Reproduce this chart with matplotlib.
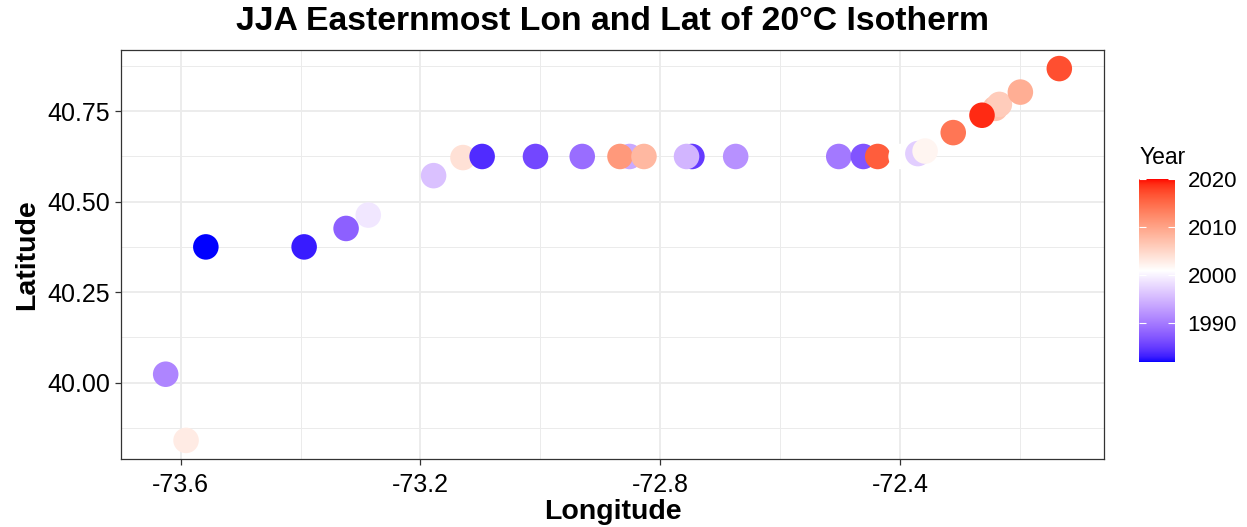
import numpy as np
import matplotlib
matplotlib.use("Agg")
import matplotlib.pyplot as plt
from matplotlib.colors import ListedColormap, Normalize

# ---------------- data ----------------
lon = [-73.625, -73.591, -73.558, -73.394, -73.324, -73.287, -73.178, -73.129,
       -73.097, -73.008, -72.930, -72.851, -72.867, -72.827, -72.747, -72.756,
       -72.674, -72.502, -72.461, -72.437, -72.398, -72.370, -72.358, -72.311,
       -72.241, -72.234, -72.263, -72.199, -72.134]
lat = [40.023, 39.840, 40.375, 40.375, 40.426, 40.463, 40.572, 40.622,
       40.625, 40.625, 40.625, 40.625, 40.625, 40.625, 40.625, 40.625,
       40.625, 40.625, 40.625, 40.625, 40.625, 40.633, 40.640, 40.691,
       40.758, 40.769, 40.739, 40.803, 40.868]
year = [1991, 2003, 1982, 1983, 1988, 1999, 1996, 2004,
        1984, 1986, 1989, 1994, 2011, 2008, 1985, 1995,
        1992, 1990, 1987, 2016, 2001, 1997, 2002, 2014,
        2007, 2006, 2019, 2009, 2017]

x_ticks = [-73.6, -73.2, -72.8, -72.4]
x_minor = [-73.4, -73.0, -72.6, -72.2]
y_ticks = [40.00, 40.25, 40.50, 40.75]
y_minor = [39.875, 40.125, 40.375, 40.625, 40.875]
year_ticks = [1990, 2000, 2010, 2020]
year_limits = (1982, 2020)

title = "JJA Easternmost Lon and Lat of 20°C Isotherm"
xlabel = "Longitude"
ylabel = "Latitude"
legend_title = "Year"

# ---------------- Lab-interpolated diverging palette ----------------
_M = np.array([[0.4124564, 0.3575761, 0.1804375],
               [0.2126729, 0.7151522, 0.0721750],
               [0.0193339, 0.1191920, 0.9503041]])
_W = np.array([0.95047, 1.0, 1.08883])


def srgb_to_lab(rgb):
    c = np.asarray(rgb, float)
    lin = np.where(c <= 0.04045, c / 12.92, ((c + 0.055) / 1.055) ** 2.4)
    xyz = _M @ lin / _W
    d = 6 / 29
    f = np.where(xyz > d ** 3, np.cbrt(xyz), xyz / (3 * d * d) + 4 / 29)
    return np.array([116 * f[1] - 16, 500 * (f[0] - f[1]), 200 * (f[1] - f[2])])


def lab_to_srgb(lab):
    L, a, b = lab
    fy = (L + 16) / 116
    fx = fy + a / 500
    fz = fy - b / 200
    d = 6 / 29
    f = np.array([fx, fy, fz])
    xyz = np.where(f > d, f ** 3, 3 * d * d * (f - 4 / 29)) * _W
    lin = np.linalg.solve(_M, xyz)
    lin = np.clip(lin, 0, 1)
    c = np.where(lin <= 0.0031308, 12.92 * lin, 1.055 * lin ** (1 / 2.4) - 0.055)
    return np.clip(c, 0, 1)


low, mid, high = srgb_to_lab([0, 0, 1]), srgb_to_lab([1, 1, 1]), srgb_to_lab([1, 0, 0])
cols = []
for t in np.linspace(0, 1, 512):
    if t <= 0.5:
        u = t / 0.5
        lab = low + (mid - low) * u
    else:
        u = (t - 0.5) / 0.5
        lab = mid + (high - mid) * u
    cols.append(lab_to_srgb(lab))
cmap = ListedColormap(cols)
norm = Normalize(vmin=year_limits[0], vmax=year_limits[1])

# ---------------- figure ----------------
plt.rcParams["font.family"] = ["Liberation Sans", "DejaVu Sans"]
W, H = 1247, 527
fig = plt.figure(figsize=(W / 100, H / 100), dpi=100)

px_l, px_r, px_t, px_b = 121, 1104, 50, 459
ax = fig.add_axes([px_l / W, 1 - px_b / H, (px_r - px_l) / W, (px_b - px_t) / H])

sc = ax.scatter(lon, lat, c=year, cmap=cmap, norm=norm, s=338, linewidths=0, zorder=3)

# ggplot-style 5% expansion
xr = max(lon) - min(lon)
yr = max(lat) - min(lat)
ax.set_xlim(min(lon) - 0.05 * xr, max(lon) + 0.05 * xr)
ax.set_ylim(min(lat) - 0.05 * yr, max(lat) + 0.05 * yr)

ax.set_xticks(x_ticks)
ax.set_xticklabels([f"{v:g}" for v in x_ticks])
ax.set_yticks(y_ticks)
ax.set_yticklabels([f"{v:.2f}" for v in y_ticks])
ax.set_xticks(x_minor, minor=True)
ax.set_yticks(y_minor, minor=True)
ax.grid(which="major", color="#ebebeb", linewidth=1.3, zorder=0)
ax.grid(which="minor", color="#ebebeb", linewidth=0.7, zorder=0)
ax.set_axisbelow(True)
ax.tick_params(which="minor", length=0)
ax.tick_params(which="major", length=4, width=0.9, color="#333333",
               labelsize=18, labelcolor="black", pad=4)
ax.tick_params(axis="x", which="major", pad=6)
for sp in ax.spines.values():
    sp.set_color("#333333")
    sp.set_linewidth(0.9)

cx = (px_l + px_r) / 2 / W
fig.text(cx, 1 - 21 / H, title, ha="center", va="center", fontsize=24.3, fontweight="bold")
fig.text(cx, 1 - 512 / H, xlabel, ha="center", va="center", fontsize=20.5, fontweight="bold")
fig.text(27 / W, 1 - (px_t + px_b) / 2 / H, ylabel, ha="center", va="center",
         rotation=90, fontsize=20.5, fontweight="bold")

# colorbar
cb_l, cb_r, cb_t, cb_b = 1139, 1175, 179, 362
cax = fig.add_axes([cb_l / W, 1 - cb_b / H, (cb_r - cb_l) / W, (cb_b - cb_t) / H])
cbar = fig.colorbar(sc, cax=cax, ticks=year_ticks)
cbar.outline.set_visible(False)
cax.tick_params(axis="y", direction="in", color="white", length=5, width=0.8,
                left=True, right=True, labelleft=False, labelright=True,
                labelsize=16, pad=9)
cbar.set_ticklabels([str(y) for y in year_ticks])
fig.text(1140 / W, 1 - 158 / H, legend_title, ha="left", va="center", fontsize=16.5)

fig.savefig("out.png", dpi=100)
